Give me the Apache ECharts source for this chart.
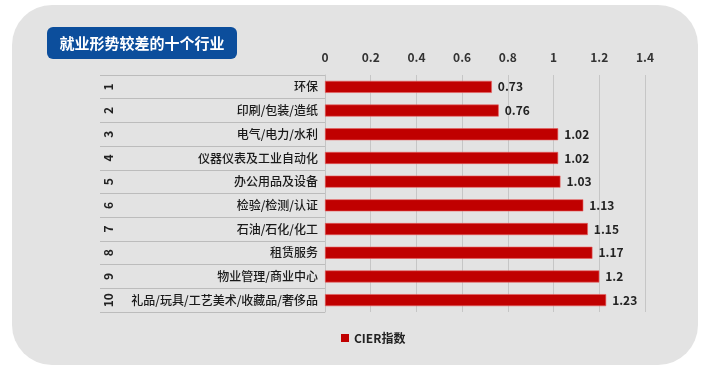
<!DOCTYPE html>
<html>
<head>
<meta charset="utf-8">
<script src="https://cdn.jsdelivr.net/npm/echarts@6/dist/echarts.min.js"></script>
<style>
  html, body { margin: 0; padding: 0; background: #ffffff; }
  #chart { width: 720px; height: 370px; }
</style>
</head>
<body>
<div id="chart"></div>
<script>
// 就业形势较差的十个行业
const ranks = ["1", "2", "3", "4", "5", "6", "7", "8", "9", "10"];
const industries = [
  "环保",
  "印刷/包装/造纸",
  "电气/电力/水利",
  "仪器仪表及工业自动化",
  "办公用品及设备",
  "检验/检测/认证",
  "石油/石化/化工",
  "租赁服务",
  "物业管理/商业中心",
  "礼品/玩具/工艺美术/收藏品/奢侈品"
];
const cierValues = [0.73, 0.76, 1.02, 1.02, 1.03, 1.13, 1.15, 1.17, 1.2, 1.23];
const titleText = "就业形势较差的十个行业";
const seriesName = "CIER指数";

const FONT = "'Noto Sans CJK SC', 'Noto Sans', sans-serif";

const chart = echarts.init(document.getElementById("chart"));
const option = {
  backgroundColor: "#ffffff",
  textStyle: { fontFamily: FONT },
  graphic: [
    {
      type: "rect",
      z: -10,
      shape: { x: 12, y: 5, width: 686, height: 360, r: 40 },
      style: { fill: "#e3e3e3" }
    },
    {
      type: "rect",
      z: 10,
      shape: { x: 47, y: 27, width: 190, height: 32, r: 6 },
      style: { fill: "#0c4e9c" }
    },
    {
      type: "text",
      z: 11,
      x: 142,
      y: 43,
      style: {
        text: titleText,
        fill: "#ffffff",
        font: "bold 15px " + FONT,
        textAlign: "center",
        textVerticalAlign: "middle"
      }
    }
  ],
  grid: {
    left: 325,
    right: 75,
    top: 75,
    bottom: 58
  },
  legend: {
    left: 336,
    top: 327,
    itemWidth: 8,
    itemHeight: 8,
    icon: "rect",
    itemStyle: { borderWidth: 0 },
    textStyle: { color: "#222", fontSize: 12, fontWeight: "bold", fontFamily: FONT },
    data: [seriesName]
  },
  xAxis: {
    type: "value",
    position: "top",
    min: 0,
    max: 1.4,
    interval: 0.2,
    axisLine: { show: false },
    axisTick: { show: false },
    axisLabel: {
      color: "#333",
      fontSize: 12,
      fontWeight: "bold",
      margin: 12,
      formatter: (v) => String(Math.round(v * 10) / 10)
    },
    splitLine: { lineStyle: { color: "#c6c6c6", width: 1 } }
  },
  yAxis: [
    {
      type: "category",
      inverse: true,
      data: industries,
      axisLine: { show: true, lineStyle: { color: "#c4c4c4" } },
      axisTick: {
        show: true,
        length: 225,
        interval: 0,
        lineStyle: { color: "#bcbcbc" }
      },
      axisLabel: {
        color: "#1a1a1a",
        fontSize: 12,
        fontWeight: 500,
        margin: 7
      }
    },
    {
      type: "category",
      inverse: true,
      position: "left",
      offset: 209,
      data: ranks,
      axisLine: { show: false },
      axisTick: { show: false },
      axisLabel: {
        color: "#222",
        fontSize: 12,
        fontWeight: "bold",
        rotate: 90,
        margin: 2
      }
    }
  ],
  series: [
    {
      name: seriesName,
      type: "bar",
      yAxisIndex: 0,
      data: cierValues,
      barWidth: 12,
      itemStyle: {
        color: "#c00000",
        borderColor: "#e86060",
        borderWidth: 0.6
      },
      label: {
        show: true,
        position: "right",
        distance: 6,
        color: "#222",
        fontSize: 12,
        fontWeight: "bold"
      }
    }
  ]
};
chart.setOption(option);
</script>
</body>
</html>
